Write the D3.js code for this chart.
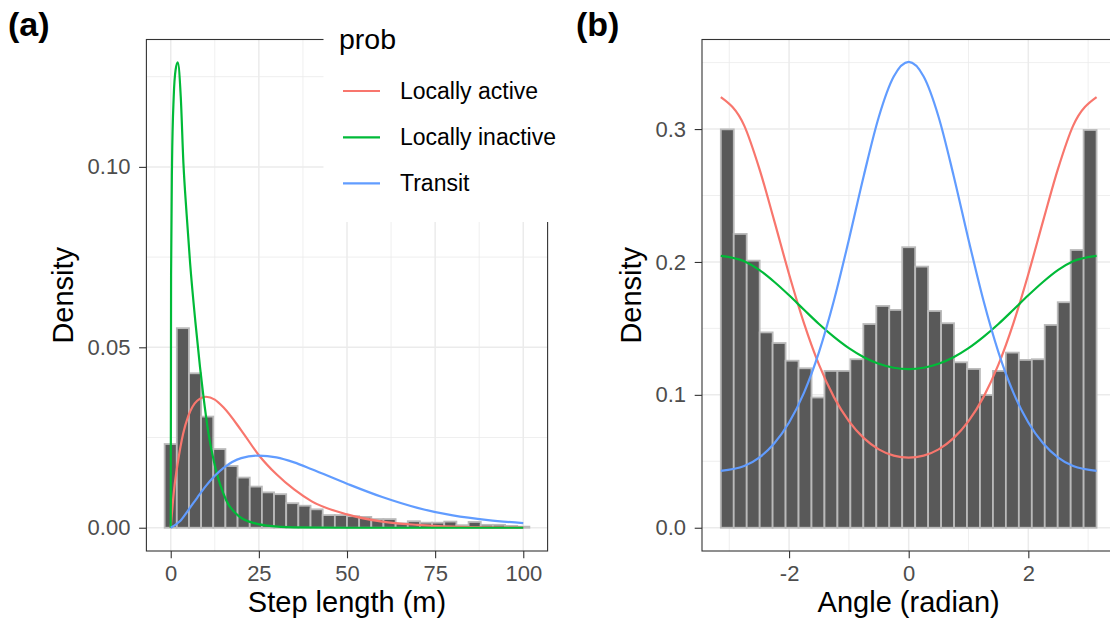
<!DOCTYPE html>
<html lang="en">
<head>
<meta charset="UTF-8">
<script src="https://d3js.org/d3.v7.min.js"></script>
<style>
  body { margin: 0; background: #fff; }
  text { font-family: "Liberation Sans", Arial, sans-serif; }
</style>
<title>Step length and turning angle</title>
</head>
<body>
<svg width="1110" height="623"></svg>
<script>
// ---- panel (a): step length histogram, bin centres and densities ----
const stepBinWidth = 100 / 29;
const stepBins = [0, 3.45, 6.9, 10.34, 13.79, 17.24, 20.69, 24.14, 27.59, 31.03, 34.48, 37.93,
  41.38, 44.83, 48.28, 51.72, 55.17, 58.62, 62.07, 65.52, 68.97, 72.41, 75.86, 79.31,
  82.76, 86.21, 89.66, 93.1, 96.55, 100];
const stepDensity = [0.0232, 0.0553, 0.0428, 0.0308, 0.0218, 0.0171, 0.0139, 0.0114, 0.0098,
  0.0093, 0.0068, 0.0061, 0.0051, 0.0035, 0.0035, 0.0032, 0.0030, 0.0024, 0.0024, 0.0012,
  0.0018, 0.0014, 0.0014, 0.0017, 0.0007, 0.0016, 0.0008, 0.0008, 0.0005, 0.0003];

// fitted step length curves (x, density)
const activeStep = [[0, 0], [1, 0.011], [2, 0.018], [3.5, 0.026], [5, 0.031], [7.5, 0.0352],
  [10, 0.0363], [12.5, 0.0355], [15, 0.0333], [20, 0.027], [25, 0.0201], [30, 0.0148],
  [35, 0.0106], [40, 0.0073], [50, 0.0037], [60, 0.0017], [70, 0.0008], [80, 0.0003],
  [90, 0.0001], [100, 0.00005]];
const inactiveStep = [[0, 0], [0.1, 0.07], [0.37, 0.101], [0.85, 0.1195], [1.4, 0.127],
  [2, 0.129], [2.84, 0.1195], [3.6, 0.101], [4.5, 0.087], [5.5, 0.0733], [7, 0.057],
  [8.3, 0.0446], [9.2, 0.037], [10.7, 0.0262], [12.6, 0.0169], [15.7, 0.0077], [19.6, 0.003],
  [24, 0.0012], [28, 0.0005], [35, 0.0001], [50, 0], [75, 0], [100, 0]];
const transitStep = [[0, 0], [2.5, 0.0017], [5, 0.0049], [7.5, 0.0083], [10, 0.0116],
  [12.5, 0.0144], [15, 0.0166], [20, 0.0193], [25, 0.0200], [30, 0.0195], [35, 0.0181],
  [40, 0.0162], [50, 0.0122], [60, 0.0085], [70, 0.0055], [80, 0.0034], [90, 0.0021],
  [100, 0.0013]];

// ---- panel (b): turning angle histogram ----
const angleBinWidth = 2 * Math.PI / 29;
const angleBins = [-3.033, -2.817, -2.6, -2.383, -2.167, -1.95, -1.733, -1.517, -1.3, -1.083,
  -0.867, -0.65, -0.433, -0.217, 0, 0.217, 0.433, 0.65, 0.867, 1.083, 1.3, 1.517, 1.733,
  1.95, 2.167, 2.383, 2.6, 2.817, 3.033];
const angleDensity = [0.2998, 0.2211, 0.2010, 0.147, 0.139, 0.1257, 0.120, 0.098, 0.118,
  0.118, 0.1268, 0.1533, 0.1669, 0.1639, 0.2111, 0.1965, 0.1631, 0.1539, 0.1245, 0.1195,
  0.0999, 0.118, 0.1318, 0.1263, 0.1268, 0.1526, 0.1697, 0.209, 0.2993];

const angleX = [-3.1416, -2.75, -2.5, -2.25, -2, -1.75, -1.5, -1.25, -1, -0.75, -0.5, -0.25, 0,
  0.25, 0.5, 0.75, 1, 1.25, 1.5, 1.75, 2, 2.25, 2.5, 2.75, 3.1416];
const activeAngle = [0.3241, 0.3026, 0.2706, 0.2313, 0.1908, 0.1538, 0.1227, 0.0983, 0.0802,
  0.0674, 0.0590, 0.0543, 0.0528, 0.0543, 0.0590, 0.0674, 0.0802, 0.0983, 0.1227, 0.1538,
  0.1908, 0.2313, 0.2706, 0.3026, 0.3241];
const inactiveAngle = [0.2046, 0.2005, 0.1940, 0.1851, 0.1749, 0.1640, 0.1533, 0.1436, 0.1351,
  0.1283, 0.1234, 0.1204, 0.1194, 0.1204, 0.1234, 0.1283, 0.1351, 0.1436, 0.1533, 0.1640,
  0.1749, 0.1851, 0.1940, 0.2005, 0.2046];
const transitAngle = [0.0428, 0.0464, 0.0528, 0.0634, 0.0792, 0.1017, 0.1322, 0.1710, 0.2168,
  0.2651, 0.3091, 0.3395, 0.3505, 0.3395, 0.3091, 0.2651, 0.2168, 0.1710, 0.1322, 0.1017,
  0.0792, 0.0634, 0.0528, 0.0464, 0.0428];

const stateNames = ["Locally active", "Locally inactive", "Transit"];
const stateColours = ["#F8766D", "#00BA38", "#619CFF"];

const svg = d3.select("svg");
svg.append("rect").attr("width", 1110).attr("height", 623).attr("fill", "#fff");

// draws one ggplot-ish panel (theme_bw)
function drawPanel(o) {
  const x = d3.scaleLinear().domain(o.xDomain).range([o.left, o.right]);
  const y = d3.scaleLinear().domain(o.yDomain).range([o.bottom, o.top]);
  const g = svg.append("g");

  // grid lines, minor first
  g.selectAll(null).data(o.xMinor).enter().append("line")
    .attr("x1", d => x(d)).attr("x2", d => x(d)).attr("y1", o.top).attr("y2", o.bottom)
    .attr("stroke", "#ebebeb").attr("stroke-width", 0.8);
  g.selectAll(null).data(o.yMinor).enter().append("line")
    .attr("y1", d => y(d)).attr("y2", d => y(d)).attr("x1", o.left).attr("x2", o.right)
    .attr("stroke", "#ebebeb").attr("stroke-width", 0.8);
  g.selectAll(null).data(o.xTicks).enter().append("line")
    .attr("x1", d => x(d)).attr("x2", d => x(d)).attr("y1", o.top).attr("y2", o.bottom)
    .attr("stroke", "#ebebeb").attr("stroke-width", 1.5);
  g.selectAll(null).data(o.yTicks).enter().append("line")
    .attr("y1", d => y(d)).attr("y2", d => y(d)).attr("x1", o.left).attr("x2", o.right)
    .attr("stroke", "#ebebeb").attr("stroke-width", 1.5);

  // histogram
  g.selectAll(null).data(o.bins.map((c, i) => [c, o.dens[i]])).enter().append("rect")
    .attr("x", d => x(d[0] - o.binWidth / 2))
    .attr("width", d => x(d[0] + o.binWidth / 2) - x(d[0] - o.binWidth / 2))
    .attr("y", d => y(d[1]))
    .attr("height", d => y(0) - y(d[1]))
    .attr("fill", "#595959").attr("stroke", "#bababa").attr("stroke-width", 1.8);

  // curves
  const line = d3.line().x(d => x(d[0])).y(d => y(d[1])).curve(d3.curveMonotoneX);
  o.curves.forEach((c, i) => {
    g.append("path").attr("d", line(c)).attr("fill", "none")
      .attr("stroke", stateColours[i]).attr("stroke-width", 2.2);
  });

  // border
  g.append("rect").attr("x", o.left).attr("y", o.top)
    .attr("width", o.right - o.left).attr("height", o.bottom - o.top)
    .attr("fill", "none").attr("stroke", "#333333").attr("stroke-width", 1.1);

  // axes
  const ax = g.append("g").attr("transform", `translate(0,${o.bottom})`)
    .call(d3.axisBottom(x).tickValues(o.xTicks).tickFormat(o.xFormat)
      .tickSize(7.3).tickPadding(7));
  const ay = g.append("g").attr("transform", `translate(${o.left},0)`)
    .call(d3.axisLeft(y).tickValues(o.yTicks).tickFormat(o.yFormat)
      .tickSize(7.3).tickPadding(8.7));
  [ax, ay].forEach(a => {
    a.select(".domain").remove();
    a.selectAll(".tick line").attr("stroke", "#333333").attr("stroke-width", 1.1);
    a.selectAll(".tick text").attr("fill", "#4d4d4d")
      .style("font-size", "22px").style("font-family", "Liberation Sans, Arial, sans-serif");
  });

  // titles
  svg.append("text").attr("x", (o.left + o.right) / 2).attr("y", 611.5)
    .attr("text-anchor", "middle").style("font-size", "29px").text(o.xTitle);
  svg.append("text")
    .attr("transform", `translate(${o.yTitleX},${(o.top + o.bottom) / 2}) rotate(-90)`)
    .attr("text-anchor", "middle").style("font-size", "29px").text("Density");
  svg.append("text").attr("x", o.tagX).attr("y", 36)
    .style("font-size", "34px").style("font-weight", "bold").text(o.tag);
}

drawPanel({
  left: 146.4, right: 547.6, top: 39.5, bottom: 551,
  xDomain: [-6.9, 106.9], yDomain: [-0.00645, 0.1353],
  xTicks: [0, 25, 50, 75, 100], xMinor: [12.5, 37.5, 62.5, 87.5],
  yTicks: [0, 0.05, 0.10], yMinor: [0.025, 0.075, 0.125],
  xFormat: d3.format("d"), yFormat: d3.format(".2f"),
  bins: stepBins, dens: stepDensity, binWidth: stepBinWidth,
  curves: [activeStep, inactiveStep, transitStep],
  xTitle: "Step length (m)", yTitleX: 73, tag: "(a)", tagX: 8
});

drawPanel({
  left: 702, right: 1115.4, top: 39.5, bottom: 551,
  xDomain: [-3.456, 3.456], yDomain: [-0.0175, 0.3674],
  xTicks: [-2, 0, 2], xMinor: [-3, -1, 1, 3],
  yTicks: [0, 0.1, 0.2, 0.3], yMinor: [0.05, 0.15, 0.25, 0.35],
  xFormat: d => d3.format("d")(d).replace("\u2212", "-"), yFormat: d3.format(".1f"),
  bins: angleBins, dens: angleDensity, binWidth: angleBinWidth,
  curves: [angleX.map((a, i) => [a, activeAngle[i]]),
           angleX.map((a, i) => [a, inactiveAngle[i]]),
           angleX.map((a, i) => [a, transitAngle[i]])],
  xTitle: "Angle (radian)", yTitleX: 641, tag: "(b)", tagX: 576
});

// legend (sits over the top-right of panel a)
const leg = svg.append("g");
leg.append("rect").attr("x", 323.5).attr("y", 18).attr("width", 250).attr("height", 204)
  .attr("fill", "#fff");
leg.append("text").attr("x", 339).attr("y", 49).style("font-size", "28.5px").text("prob");
const keyY = [91, 137.3, 183.3];
stateNames.forEach((name, i) => {
  leg.append("line").attr("x1", 343).attr("x2", 380).attr("y1", keyY[i]).attr("y2", keyY[i])
    .attr("stroke", stateColours[i]).attr("stroke-width", 2.2);
  leg.append("text").attr("x", 400).attr("y", keyY[i]).attr("dy", "0.35em")
    .style("font-size", "23px").text(name);
});
</script>
</body>
</html>
